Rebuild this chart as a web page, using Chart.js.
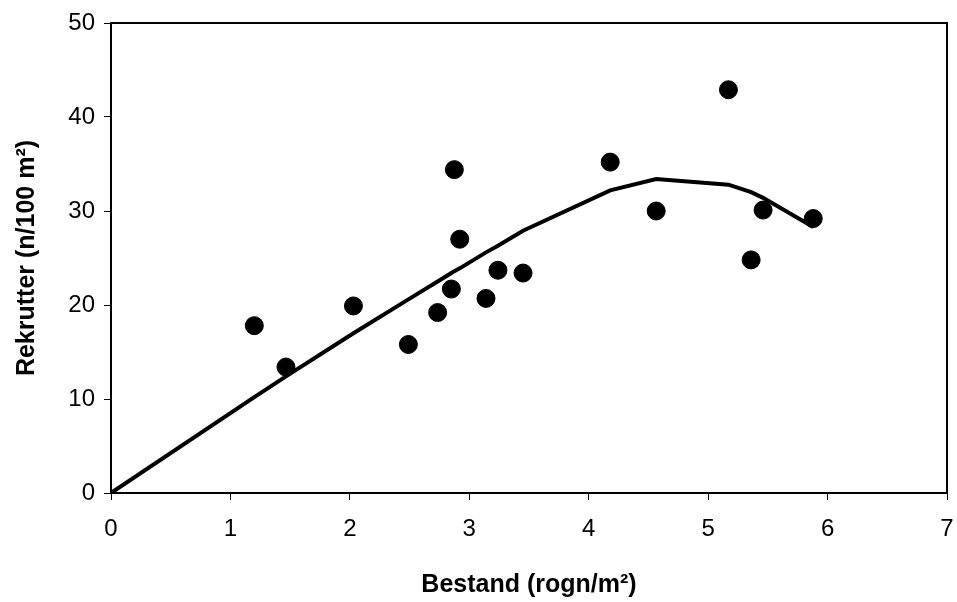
<!DOCTYPE html>
<html>
<head>
<meta charset="utf-8">
<script src="https://cdn.jsdelivr.net/npm/chart.js@4.4.0/dist/chart.umd.min.js"></script>
<style>
  html, body { margin: 0; padding: 0; background: #fff; }
  #wrap { width: 957px; height: 602px; }
</style>
</head>
<body>
<div id="wrap"><canvas id="chart" width="957" height="602"></canvas></div>
<script>
// observerte punkter
const bestand = [1.20, 1.465, 2.03, 2.49, 2.735, 2.85, 2.875, 2.92, 3.14, 3.24, 3.45, 4.18, 4.565, 5.17, 5.36, 5.46, 5.88];
const rekrutter = [17.8, 13.4, 19.9, 15.8, 19.2, 21.7, 34.4, 27.0, 20.7, 23.7, 23.4, 35.2, 30.0, 42.9, 24.8, 30.1, 29.2];

// tilpasset kurve (lest av figuren)
const kurveX = [0, 1.20, 1.465, 2.03, 2.49, 2.735, 2.85, 2.875, 2.92, 3.14, 3.24, 3.45, 4.18, 4.565, 5.17, 5.36, 5.46, 5.88];
const kurveY = [0, 10.2, 12.4, 17.0, 20.6, 22.5, 23.4, 23.6, 23.9, 25.6, 26.3, 27.9, 32.2, 33.4, 32.8, 32.0, 31.4, 28.3];

const xTicks = [0, 1, 2, 3, 4, 5, 6, 7];
const yTicks = [0, 10, 20, 30, 40, 50];

const font = "'Liberation Sans', Arial, sans-serif";

const frame = {
  id: 'frame',
  afterDatasetsDraw(chart) {
    const a = chart.chartArea;
    const ctx = chart.ctx;
    ctx.save();
    ctx.strokeStyle = '#000';
    ctx.lineWidth = 2;
    ctx.strokeRect(a.left, a.top, a.right - a.left, a.bottom - a.top);
    ctx.restore();
  }
};

const ctx = document.getElementById('chart').getContext('2d');
new Chart(ctx, {
  type: 'scatter',
  data: {
    datasets: [
      {
        label: 'Observert',
        data: bestand.map((x, i) => ({ x: x, y: rekrutter[i] })),
        backgroundColor: '#000',
        borderColor: '#000',
        pointRadius: 9,
        pointHoverRadius: 9
      },
      {
        label: 'Kurve',
        data: kurveX.map((x, i) => ({ x: x, y: kurveY[i] })),
        showLine: true,
        borderColor: '#000',
        borderWidth: 4,
        pointRadius: 0,
        tension: 0,
        fill: false
      }
    ]
  },
  options: {
    responsive: false,
    animation: false,
    layout: { padding: { top: 23, right: 0, left: 0, bottom: 0 } },
    plugins: {
      legend: { display: false },
      tooltip: { enabled: false }
    },
    scales: {
      x: {
        type: 'linear',
        min: 0,
        max: 7,
        afterBuildTicks: s => { s.ticks = xTicks.map(v => ({ value: v })); },
        afterFit: s => { s.height = 109; s.paddingRight = 0; s.paddingLeft = 0; },
        border: { color: '#000', width: 2 },
        grid: { drawOnChartArea: false, drawTicks: true, tickLength: 7, tickColor: '#000', tickWidth: 1 },
        ticks: { color: '#000', font: { family: font, size: 24 }, padding: 15, maxRotation: 0 },
        title: {
          display: true,
          text: 'Bestand (rogn/m²)',
          color: '#000',
          font: { family: font, size: 25, weight: 'bold' },
          padding: { top: 0, bottom: 2 }
        }
      },
      y: {
        type: 'linear',
        min: 0,
        max: 50,
        afterBuildTicks: s => { s.ticks = yTicks.map(v => ({ value: v })); },
        afterFit: s => { s.width = 111; s.paddingTop = 0; s.paddingBottom = 0; },
        border: { color: '#000', width: 2 },
        grid: { drawOnChartArea: false, drawTicks: true, tickLength: 7, tickColor: '#000', tickWidth: 1 },
        ticks: { color: '#000', font: { family: font, size: 24 }, padding: 9 },
        title: {
          display: true,
          text: 'Rekrutter (n/100 m²)',
          color: '#000',
          font: { family: font, size: 25, weight: 'bold' },
          padding: { top: 12, bottom: 0 }
        }
      }
    }
  },
  plugins: [frame]
});
</script>
</body>
</html>
